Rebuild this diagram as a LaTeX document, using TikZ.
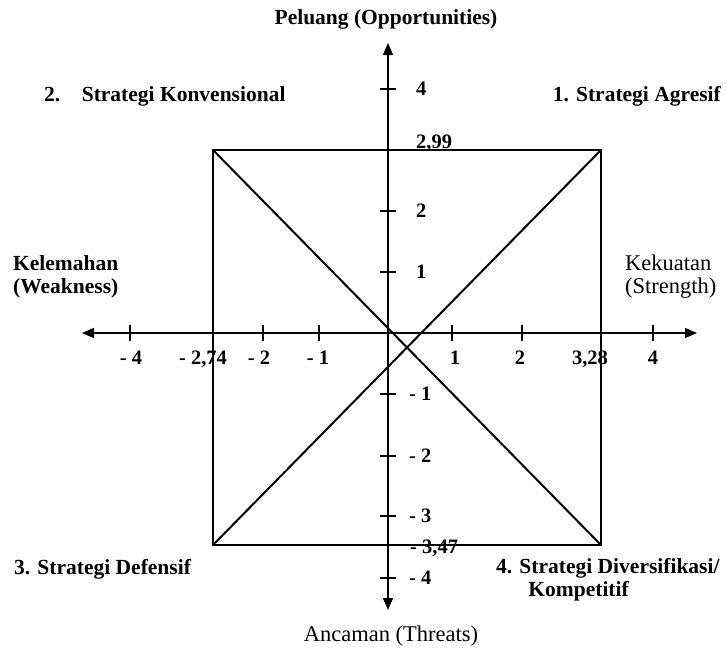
\documentclass[tikz,border=0pt]{standalone}
\usepackage{fontspec}
\setmainfont{Liberation Serif}
\usetikzlibrary{arrows.meta}

\begin{document}
\begin{tikzpicture}[x=1pt, y=-1pt,
  lbl/.style={font=\fontsize{22.5}{23}\selectfont, inner sep=0pt},
  blbl/.style={font=\fontsize{21.5}{23}\selectfont\bfseries, inner sep=0pt},
  num/.style={font=\fontsize{20.5}{22}\selectfont\bfseries, inner sep=0pt},
  axis/.style={line width=1.2pt, {Triangle[length=12pt, width=10pt]}-{Triangle[length=12pt, width=10pt]}},
  frame/.style={line width=2pt},
  tick/.style={line width=1.2pt},
]
\useasboundingbox (0,0) rectangle (727,648);
% --- axes ---
\coordinate (W) at (82,333);
\coordinate (E) at (697,333);
\coordinate (N) at (388,43);
\coordinate (S) at (388,610);
\draw[axis] (W) -- (E);
\draw[axis] (N) -- (S);
% --- ticks ---
\foreach \x in {130,263,319,452,522,653}
  \draw[tick] (\x,325) -- (\x,341);
\foreach \y in {89,211,272,394,456,516,578}
  \draw[tick] (380,\y) -- (396,\y);
% --- square and diagonals ---
\coordinate (TL) at (213,150);
\coordinate (TR) at (601,150);
\coordinate (BR) at (601,545);
\coordinate (BL) at (213,545);
\draw[frame] (TL) -- (TR) -- (BR) -- (BL) -- cycle;
\draw[frame] (TL) -- (BR);
\draw[frame] (BL) -- (TR);
% --- tick labels ---
\node[num, anchor=base] (xm4) at (131,364) {- 4};
\node[num, anchor=base] (xm274) at (203,364) {- 2,74};
\node[num, anchor=base] (xm2) at (259,364) {- 2};
\node[num, anchor=base] (xm1) at (318,364) {- 1};
\node[num, anchor=base] (x1) at (455,364) {1};
\node[num, anchor=base] (x2) at (520,364) {2};
\node[num, anchor=base] (x328) at (590,364) {3,28};
\node[num, anchor=base] (x4) at (653,364) {4};
\node[num, anchor=west] (y4) at (416,89) {4};
\node[num, anchor=base west] (y299) at (416,148) {2,99};
\node[num, anchor=west] (y2) at (416,211) {2};
\node[num, anchor=west] (y1) at (416,272) {1};
\node[num, anchor=west] (ym1) at (409,394) {- 1};
\node[num, anchor=west] (ym2) at (409,456) {- 2};
\node[num, anchor=west] (ym3) at (409,516) {- 3};
\node[num, anchor=base west] (ym347) at (410,553) {- 3,47};
\node[num, anchor=west] (ym4) at (409,578) {- 4};
% --- axis titles ---
\node[blbl] (opp) at (386,19) {Peluang (Opportunities)};
\node[lbl] (thr) at (391,636) {Ancaman (Threats)};
\node[blbl, anchor=west, align=left] (weak) at (13,277) {Kelemahan\\(Weakness)};
\node[lbl, anchor=west, align=left] (str) at (625,277) {Kekuatan\\(Strength)};
% --- quadrants ---
\node[blbl, anchor=west] (q2) at (44,96) {2.\hspace{1em}Strategi Konvensional};
\node[blbl, anchor=east] (q1) at (721,96) {1. Strategi Agresif};
\node[blbl, anchor=west] (q3) at (14,569) {3. Strategi Defensif};
\node[blbl, anchor=north west, align=left] (q4) at (496,558) {4. Strategi Diversifikasi/\\\hspace*{1.5em}Kompetitif};
\end{tikzpicture}
\end{document}
